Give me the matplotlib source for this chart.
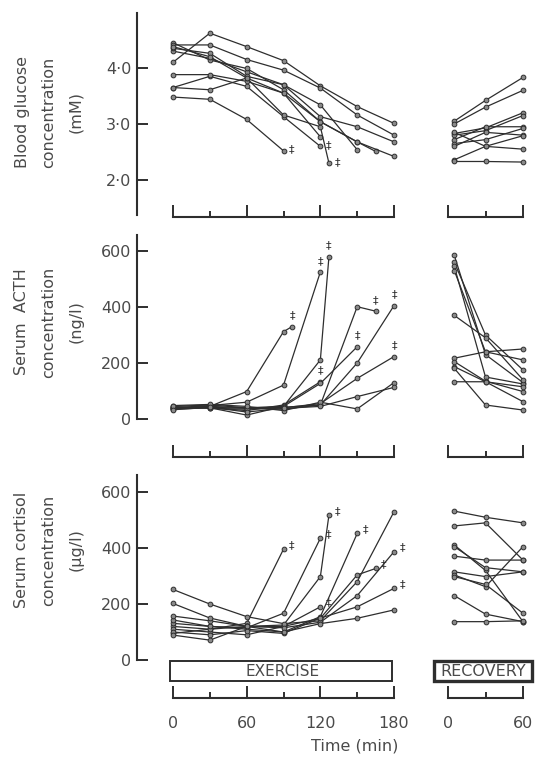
import matplotlib.pyplot as plt
from matplotlib.patches import Rectangle

W, H = 535, 758
DPI = 100

# ---- exercise data: ten subjects, sampled every 30 min until they stopped ----
glu_t = [[0, 30, 60, 90], [0, 30, 60, 90, 120], [0, 30, 60, 90, 120],
         [0, 30, 60, 90, 120, 127], [0, 30, 60, 90, 120, 150],
         [0, 30, 60, 90, 120, 150, 165], [0, 30, 60, 90, 120, 150, 180],
         [0, 30, 60, 90, 120, 150, 180], [0, 30, 60, 90, 120, 150, 180],
         [0, 30, 60, 90, 120, 150, 180]]
glu_v = [[3.48, 3.44, 3.08, 2.52],
         [3.65, 3.85, 3.67, 3.13, 2.60],
         [3.88, 3.88, 3.76, 3.55, 2.77],
         [3.65, 3.61, 3.82, 3.16, 2.95, 2.30],
         [4.30, 4.17, 3.93, 3.70, 3.34, 2.54],
         [4.45, 4.14, 3.99, 3.61, 3.04, 2.68, 2.51],
         [4.10, 4.62, 4.38, 4.13, 3.68, 3.31, 3.01],
         [4.41, 4.41, 4.15, 3.96, 3.64, 3.16, 2.80],
         [4.35, 4.26, 3.85, 3.70, 3.13, 2.95, 2.68],
         [4.38, 4.20, 3.82, 3.55, 3.04, 2.68, 2.42]]
glu_stop = [1, 1, 0, 1, 0, 0, 0, 0, 0, 0]

acth_t = [[0, 30, 60, 90, 97], [0, 30, 60, 90, 120], [0, 30, 60, 90, 120],
          [0, 30, 60, 90, 120, 127], [0, 30, 60, 90, 120, 150],
          [0, 30, 60, 90, 120, 150, 165], [0, 30, 60, 90, 120, 150, 180],
          [0, 30, 60, 90, 120, 150, 180], [0, 30, 60, 90, 120, 150, 180],
          [0, 30, 60, 90, 120, 150, 180]]
acth_v = [[38, 45, 98, 312, 330],
          [40, 48, 60, 121, 525],
          [35, 40, 30, 50, 133],
          [42, 40, 14, 45, 211, 580],
          [45, 50, 40, 45, 127, 258],
          [40, 42, 38, 35, 50, 401, 385],
          [36, 45, 40, 42, 50, 200, 405],
          [44, 38, 35, 40, 55, 145, 223],
          [48, 52, 45, 30, 60, 36, 130],
          [33, 42, 25, 38, 45, 80, 113]]
acth_stop = [1, 1, 1, 1, 1, 1, 1, 1, 0, 0]

cort_t = [[0, 30, 60, 90], [0, 30, 60, 90, 120], [0, 30, 60, 90, 120],
          [0, 30, 60, 90, 120, 127], [0, 30, 60, 90, 120, 150],
          [0, 30, 60, 90, 120, 150, 165], [0, 30, 60, 90, 120, 150, 180],
          [0, 30, 60, 90, 120, 150, 180], [0, 30, 60, 90, 120, 150, 180],
          [0, 30, 60, 90, 120, 150, 180]]
cort_v = [[120, 110, 131, 396],
          [131, 120, 115, 167, 435],
          [110, 100, 90, 120, 190],
          [95, 110, 120, 125, 298, 518],
          [143, 120, 110, 100, 155, 452],
          [157, 140, 120, 120, 149, 304, 327],
          [252, 200, 155, 130, 140, 280, 530],
          [202, 150, 120, 115, 135, 230, 387],
          [100, 90, 105, 95, 150, 190, 256],
          [89, 71, 120, 100, 130, 149, 179]]
cort_stop = [1, 1, 1, 1, 1, 1, 0, 1, 1, 0]

# ---- recovery data ----
rec_t = [5, 30, 60]
glu_rec = [[3.05, 3.42, 3.83], [3.00, 3.30, 3.60], [2.83, 2.93, 3.20],
           [2.80, 2.88, 3.15], [2.72, 2.95, 2.95], [2.65, 2.72, 2.92],
           [2.60, 2.85, 2.80], [2.85, 2.60, 2.55], [2.36, 2.60, 2.79],
           [2.33, 2.33, 2.32]]
acth_rec = [[585, 230, 130], [560, 300, 175], [545, 150, 125], [530, 240, 211],
            [370, 290, 140], [217, 240, 250], [205, 135, 98], [187, 133, 62],
            [181, 50, 32], [133, 133, 115]]
cort_rec = [[532, 510, 490], [479, 490, 357], [411, 320, 137], [405, 330, 315],
            [371, 357, 357], [315, 298, 315], [304, 262, 405], [298, 270, 167],
            [230, 164, 137], [137, 137, 140]]

INK = '#2e2e2e'
TXT = '#4a4a4a'

fig = plt.figure(figsize=(W / DPI, H / DPI), dpi=DPI)
fig.patch.set_facecolor('white')


def px_axes(x0, y0, x1, y1):
    return fig.add_axes([x0 / W, 1 - y1 / H, (x1 - x0) / W, (y1 - y0) / H])


def style(ax, xmax, minor, outward, labels):
    for s in ['top', 'right']:
        ax.spines[s].set_visible(False)
    ax.spines['bottom'].set_position(('outward', outward * 0.72))
    ax.spines['bottom'].set_bounds(0, xmax)
    ax.spines['bottom'].set_linewidth(1.5)
    ax.spines['bottom'].set_color(INK)
    ax.set_xticks(list(range(0, xmax + 1, 60)))
    ax.set_xticks(minor, minor=True)
    ax.tick_params(axis='x', which='major', direction='in', length=9, width=1.4,
                   color=INK, labelbottom=labels, pad=13, labelsize=11.5, labelcolor=TXT)
    ax.tick_params(axis='x', which='minor', direction='in', length=4, width=1.4, color=INK)
    ax.patch.set_alpha(0)


def draw(ax, times, vals, stops, dag_off):
    for t, v, s in zip(times, vals, stops):
        ax.plot(t, v, '-o', color=INK, lw=0.9, ms=3.4, mfc='#8a8a8a', mec=INK,
                mew=0.7, clip_on=False)
        if s:
            ax.annotate('‡', (t[-1], v[-1]), xytext=dag_off, textcoords='offset points',
                        ha='center', va='center', fontsize=8, color=INK)


panels = [
    # top px, bottom px, ylim, ticks, tick labels, label, label centre, bracket offset px
    (13, 215, (1.375, 4.98), [2, 3, 4], ['2·0', '3·0', '4·0'],
     'Blood glucose\nconcentration\n(mM)', 112, 1.5,
     glu_t, glu_v, glu_stop, glu_rec, (6, 1)),
    (235, 419, (0, 657), [0, 200, 400, 600], ['0', '200', '400', '600'],
     'Serum  ACTH\nconcentration\n(ng/l)', 322, 38,
     acth_t, acth_v, acth_stop, acth_rec, (0, 8)),
    (475, 660, (0, 661), [0, 200, 400, 600], ['0', '200', '400', '600'],
     'Serum cortisol\nconcentration\n(µg/l)', 550, 38,
     cort_t, cort_v, cort_stop, cort_rec, (6, 3)),
]

for i, (top, bot, ylim, yt, ytl, lab, lab_y, brk, et, ev, es, rv, doff) in enumerate(panels):
    last = i == len(panels) - 1
    ax = px_axes(137, top, 400, bot)
    ax.set_xlim((137 - 173) / 1.228, (400 - 173) / 1.228)
    ax.set_ylim(*ylim)
    style(ax, 180, [30, 90, 150], brk, last)
    ax.spines['left'].set_linewidth(1.5)
    ax.spines['left'].set_color(INK)
    ax.set_yticks(yt)
    ax.set_yticklabels(ytl)
    ax.tick_params(axis='y', direction='in', length=8, width=1.4, color=INK,
                   pad=4, labelsize=11.5, labelcolor=TXT)
    draw(ax, et, ev, es, doff)
    fig.text(49 / W, 1 - lab_y / H, lab, rotation=90, ha='center', va='center',
             multialignment='center', linespacing=2.0, fontsize=11.5, color=TXT)

    axr = px_axes(436, top, 532, bot)
    axr.set_xlim((436 - 448) / 1.25, (532 - 448) / 1.25)
    axr.set_ylim(*ylim)
    style(axr, 60, [30], brk, last)
    axr.spines['left'].set_visible(False)
    axr.set_yticks([])
    draw(axr, [rec_t] * len(rv), rv, [0] * len(rv), doff)

# EXERCISE / RECOVERY boxes under the cortisol panel
axb = px_axes(137, 661, 400, 681)
axb.set_xlim((137 - 173) / 1.228, (400 - 173) / 1.228)
axb.set_ylim(0, 1)
axb.axis('off')
axb.add_patch(Rectangle((-2.5, 0), 181, 1, fill=False, lw=1.4, ec=INK, clip_on=False))
axb.text(89, 0.5, 'EXERCISE', ha='center', va='center', fontsize=11, color=TXT)

axc = px_axes(432, 661, 535, 681)
axc.set_xlim((432 - 448) / 1.25, (535 - 448) / 1.25)
axc.set_ylim(0, 1)
axc.axis('off')
axc.add_patch(Rectangle((-11.2, 0), 78.4, 1, fill=False, lw=2.4, ec=INK, clip_on=False))
axc.text(28, 0.5, 'RECOVERY', ha='center', va='center', fontsize=11.5, color=TXT)

fig.text(355 / W, 1 - 746 / H, 'Time (min)', ha='center', va='center', fontsize=11.5, color=TXT)

fig.savefig('out.png', dpi=DPI)
